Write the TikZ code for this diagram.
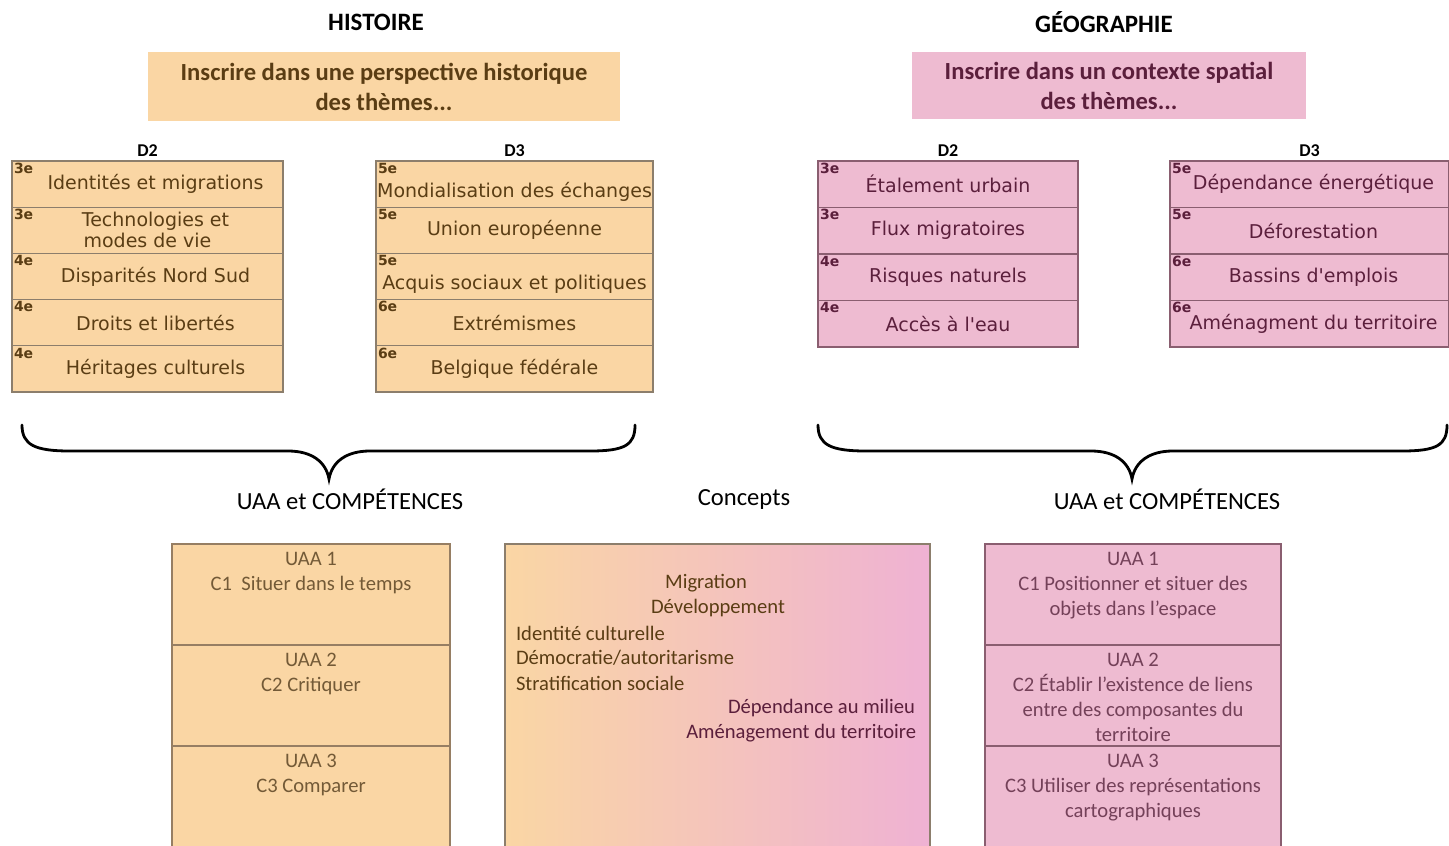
\documentclass[tikz,border=0pt]{standalone}
\usepackage{fontspec}
\setmainfont{Carlito}
\newfontfamily\verdfont{DejaVu Sans}
\usetikzlibrary{positioning}
\definecolor{histfill}{HTML}{FAD6A4}
\definecolor{geofill}{HTML}{EEBBD1}
\definecolor{histtext}{HTML}{5A3D14}
\definecolor{geotext}{HTML}{5B1F3C}
\definecolor{histline}{HTML}{8C7E6C}
\definecolor{geoline}{HTML}{8A5E70}

\begin{document}
\begin{tikzpicture}[
x=0.5pt, y=-0.5pt,
every node/.style = {inner sep=0pt, outer sep=0pt},
title/.style = {font=\bfseries\fontsize{12.5}{14}\selectfont},
dlabel/.style = {font=\bfseries\fontsize{9}{10}\selectfont},
banner/.style = {font=\bfseries\fontsize{12.3}{15}\selectfont, align=center},
cell/.style = {draw, line width=0.6pt, align=center,
               font=\verdfont\fontsize{9.5}{10.5}\selectfont},
histcell/.style = {cell, fill=histfill, draw=histline, text=histtext},
geocell/.style = {cell, fill=geofill, draw=geoline, text=geotext},
lvl/.style = {anchor=north west, inner sep=1pt,
              font=\verdfont\bfseries\fontsize{7}{7.5}\selectfont},
uaabox/.style = {draw, line width=0.6pt, minimum height=50.5pt},
uaatext/.style = {anchor=north, align=center, font=\fontsize{10.3}{12.5}\selectfont},
concept/.style = {font=\fontsize{10.3}{12.5}\selectfont},
heading/.style = {font=\fontsize{12.3}{14}\selectfont},
brace/.style = {line width=1.4pt, line cap=round},
]
\clip (0,0) rectangle (1449,845);

% titles and banners
\node[title] (histtitle) at (376,22) {HISTOIRE};
\node[title] (geotitle) at (1104,22) {GÉOGRAPHIE};
\node[banner, fill=histfill, text=histtext, minimum width=236pt, minimum height=34.5pt]
  (histbanner) at (384,87) {Inscrire dans une perspective historique\\des thèmes...};
\node[banner, fill=geofill, text=geotext, minimum width=197pt, minimum height=33.5pt]
  (geobanner) at (1109,86) {Inscrire dans un contexte spatial\\des thèmes...};

% histoire D2
\foreach \lv/\txt [count=\i] in {3e/Identités et migrations, 3e/{Technologies et\\modes de vie},
    4e/Disparités Nord Sud, 4e/Droits et libertés, 4e/Héritages culturels}
{
  \node[histcell, minimum width=135.5pt, minimum height=23.1pt]
    (hd2r\i) at (147.5,{184.1+46.2*(\i-1)}) {\hspace*{8pt}\txt};
  \node[lvl, text=histtext] (hd2l\i) at (hd2r\i.north west) {\lv};
}
\node[dlabel, above=2pt of hd2r1] (hd2) {D2};

% histoire D3
\foreach \lv/\txt [count=\i] in {5e/{\raisebox{-3pt}[\height][0pt]{Mondialisation des échanges}},
    5e/Union européenne, 5e/{\raisebox{-3pt}[\height][0pt]{Acquis sociaux et politiques}},
    6e/Extrémismes, 6e/Belgique fédérale}
{
  \node[histcell, minimum width=138.5pt, minimum height=23.1pt]
    (hd3r\i) at (514.5,{184.1+46.2*(\i-1)}) {\txt};
  \node[lvl, text=histtext] (hd3l\i) at (hd3r\i.north west) {\lv};
}
\node[dlabel, above=2pt of hd3r1] (hd3) {D3};

% geographie D2
\foreach \lv/\txt [count=\i] in {3e/Étalement urbain, 3e/Flux migratoires,
    4e/Risques naturels, 4e/Accès à l'eau}
{
  \node[geocell, minimum width=130pt, minimum height=23.25pt]
    (gd2r\i) at (948,{184.25+46.5*(\i-1)}) {\txt};
  \node[lvl, text=geotext] (gd2l\i) at (gd2r\i.north west) {\lv};
}
\node[dlabel, above=2pt of gd2r1] (gd2) {D2};

% geographie D3
\foreach \lv/\txt [count=\i] in {5e/Dépendance énergétique, 5e/Déforestation,
    6e/Bassins d'emplois, 6e/Aménagment du territoire}
{
  \node[geocell, minimum width=139.5pt, minimum height=23.25pt]
    (gd3r\i) at (1309.5,{184.25+46.5*(\i-1)}) {\hspace*{4pt}\txt};
  \node[lvl, text=geotext] (gd3l\i) at (gd3r\i.north west) {\lv};
}
\node[dlabel, above=2pt of gd3r1] (gd3) {D3};

% braces
\coordinate (htip) at (329,479);
\coordinate (gtip) at (1132,479);
\draw[brace] (22,425) .. controls (22,445) and (35,451) .. (70,451) -- (288,451)
  .. controls (312,451) and (326,462) .. (htip)
  .. controls (332,462) and (346,451) .. (370,451) -- (590,451)
  .. controls (625,451) and (635,445) .. (635,425);
\draw[brace] (818,425) .. controls (818,445) and (831,451) .. (866,451) -- (1091,451)
  .. controls (1115,451) and (1129,462) .. (gtip)
  .. controls (1135,462) and (1149,451) .. (1173,451) -- (1402,451)
  .. controls (1437,451) and (1447,445) .. (1447,425);
\node[heading] (hcomp) at (350,499) {UAA et COMPÉTENCES};
\node[heading] (concepts) at (744,499) {Concepts};
\node[heading] (gcomp) at (1167,499) {UAA et COMPÉTENCES};

% UAA histoire
\foreach \txt [count=\i] in {{UAA 1\\C1\ \ Situer dans le temps}, {UAA 2\\C2 Critiquer},
    {UAA 3\\C3 Comparer}}
{
  \node[uaabox, fill=histfill, draw=histline!80!brown, minimum width=139pt]
    (huaa\i) at (311,{594.5+101*(\i-1)}) {};
  \node[uaatext, text=histtext!85] (huaat\i) at ([yshift=-4pt]huaa\i.north) {\txt};
}

% UAA geographie
\foreach \txt [count=\i] in {{UAA 1\\C1 Positionner et situer des\\objets dans l’espace},
    {UAA 2\\C2 Établir l’existence de liens\\entre des composantes du\\territoire},
    {UAA 3\\C3 Utiliser des représentations\\cartographiques}}
{
  \node[uaabox, fill=geofill, draw=geoline, minimum width=148pt]
    (guaa\i) at (1133,{594.5+101*(\i-1)}) {};
  \node[uaatext, text=geotext!85] (guaat\i) at ([yshift=-4pt]guaa\i.north) {\txt};
}

% concepts
\node[draw=histline, line width=0.6pt, left color=histfill, right color=geofill!95!magenta,
      minimum width=212.5pt, minimum height=153pt, anchor=north]
  (conbox) at (717.5,544) {};
\node[concept, text=histtext] (c1) at (706,583) {Migration};
\node[concept, text=histtext] (c2) at (718,608) {Développement};
\node[concept, anchor=west, text=histtext] (c3) at (516,633) {Identité culturelle};
\node[concept, anchor=west, text=histtext] (c4) at (516,658) {Démocratie/autoritarisme};
\node[concept, anchor=west, text=histtext] (c5) at (516,683) {Stratification sociale};
\node[concept, anchor=east, text=geotext] (c6) at (915,708) {Dépendance au milieu};
\node[concept, anchor=east, text=geotext] (c7) at (916,733) {Aménagement du territoire};
\end{tikzpicture}
\end{document}
